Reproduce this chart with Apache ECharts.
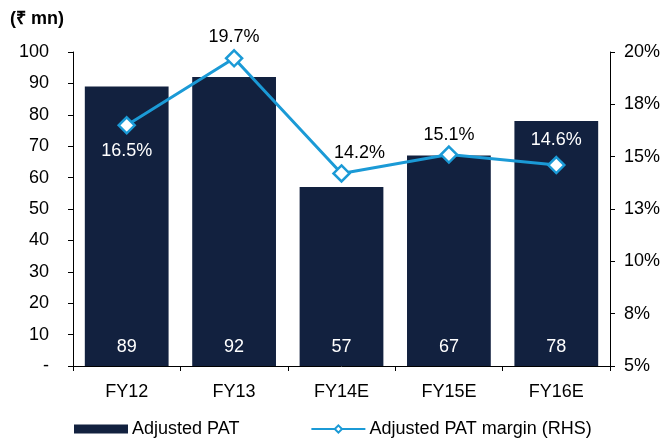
<!DOCTYPE html>
<html>
<head>
<meta charset="utf-8">
<script src="https://cdn.jsdelivr.net/npm/echarts@6/dist/echarts.min.js"></script>
<style>
  html, body { margin: 0; padding: 0; background: #fff; }
  #chart { width: 664px; height: 443px; }
</style>
</head>
<body>
<div id="chart"></div>
<script>
  // data
  var categories = ['FY12', 'FY13', 'FY14E', 'FY15E', 'FY16E'];
  var patValues = [89, 92, 57, 67, 78];
  var marginValues = [16.5, 19.7, 14.2, 15.1, 14.6];

  // per-point label placement for the margin line
  var marginLabels = [
    { position: 'bottom', distance: 8, color: '#fff' },
    { position: 'top', distance: 3, color: '#000' },
    { position: 'top', distance: 2, color: '#000', offset: [18, 0] },
    { position: 'top', distance: 1, color: '#000' },
    { position: 'top', distance: 7, color: '#fff' }
  ];

  var font = 'Arial, "Liberation Sans", sans-serif';
  var chart = echarts.init(document.getElementById('chart'));

  chart.setOption({
    animation: false,
    textStyle: { fontFamily: font },
    grid: { left: 73, right: 54, top: 52, bottom: 77 },
    graphic: [{
      type: 'text',
      left: 10,
      top: 10,
      style: { text: '(₹ mn)', fontFamily: font, fontSize: 18, fontWeight: 'bold', fill: '#000' }
    }],
    legend: {
      top: 420,
      left: 74,
      padding: 0,
      itemGap: 71,
      itemWidth: 54,
      itemHeight: 9,
      textStyle: { fontFamily: font, fontSize: 18, color: '#000', padding: [0, 0, 0, -1] },
      data: [
        { name: 'Adjusted PAT', icon: 'rect' },
        { name: 'Adjusted PAT margin (RHS)' }
      ]
    },
    xAxis: {
      type: 'category',
      data: categories,
      axisLine: { lineStyle: { color: '#000', width: 1 } },
      axisTick: { show: true, alignWithLabel: false, length: 5, lineStyle: { color: '#000' } },
      axisLabel: { color: '#000', fontSize: 18, margin: 17 }
    },
    yAxis: [{
      type: 'value',
      min: 0,
      max: 100,
      interval: 10,
      splitLine: { show: false },
      axisLine: { show: true, lineStyle: { color: '#000' } },
      axisTick: { show: true, length: 5, lineStyle: { color: '#000' } },
      axisLabel: {
        color: '#000', fontSize: 18, margin: 24,
        formatter: function (v) { return v === 0 ? '-' : v; }
      }
    }, {
      type: 'value',
      min: 5,
      max: 20,
      interval: 2.5,
      splitLine: { show: false },
      axisLine: { show: true, lineStyle: { color: '#000' } },
      axisTick: { show: true, length: 5, lineStyle: { color: '#000' } },
      axisLabel: {
        color: '#000', fontSize: 18, margin: 14,
        formatter: function (v) { return Math.round(v) + '%'; }
      }
    }],
    series: [{
      name: 'Adjusted PAT',
      type: 'bar',
      data: patValues,
      barCategoryGap: '22%',
      itemStyle: { color: '#12213F' },
      label: {
        show: true,
        position: 'insideBottom',
        distance: 10,
        color: '#fff',
        fontSize: 18,
        fontFamily: font
      }
    }, {
      name: 'Adjusted PAT margin (RHS)',
      type: 'line',
      yAxisIndex: 1,
      data: marginValues.map(function (v, i) {
        return { value: v, label: marginLabels[i] };
      }),
      symbol: 'diamond',
      symbolSize: 16,
      lineStyle: { color: '#1B9AD6', width: 3 },
      itemStyle: { color: '#fff', borderColor: '#1B9AD6', borderWidth: 2.5 },
      label: {
        show: true,
        fontSize: 18,
        fontFamily: font,
        formatter: function (p) { return p.value.toFixed(1) + '%'; }
      },
      z: 5
    }]
  });
</script>
</body>
</html>
